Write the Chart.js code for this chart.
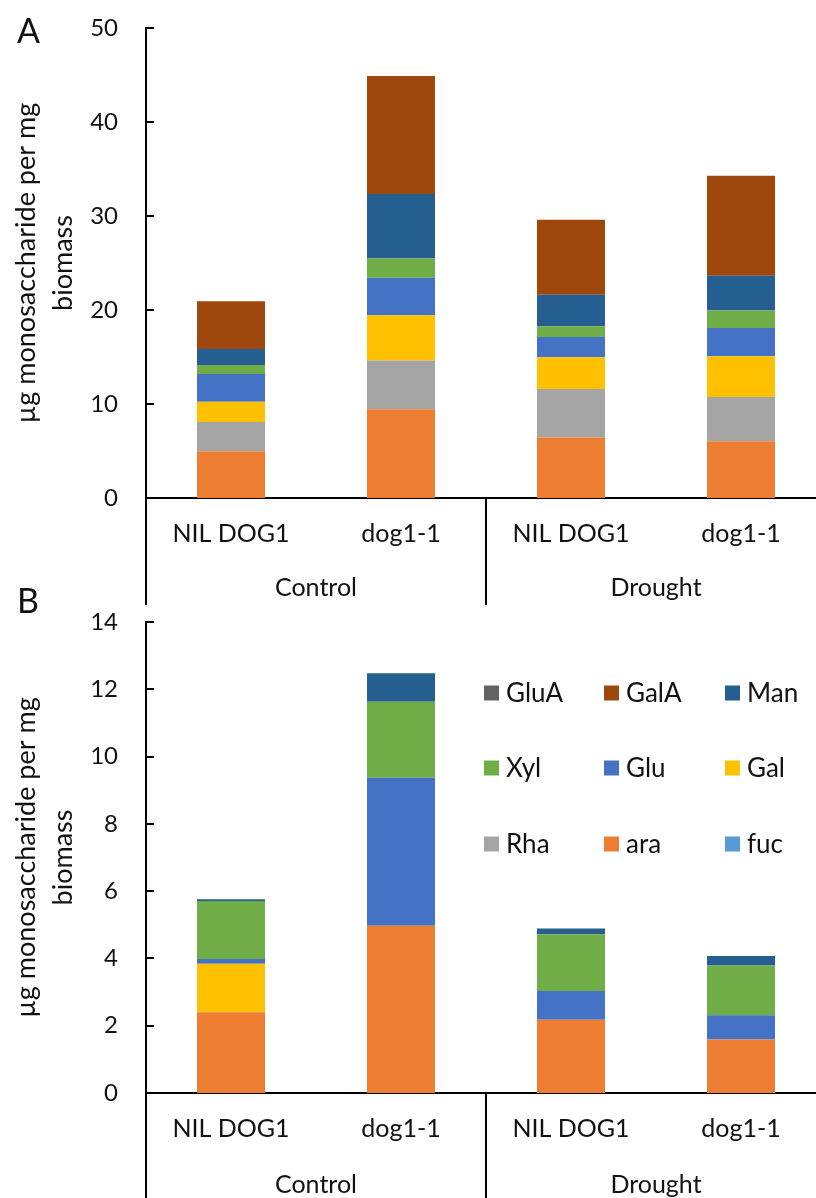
<!DOCTYPE html>
<html lang="en">
<head>
<meta charset="UTF-8" />
<title>Monosaccharide composition - DOG1</title>
<script src="https://cdn.jsdelivr.net/npm/chart.js"></script>
<style>
  body { margin: 0; background: #fff; overflow: hidden; font-family: Lato, sans-serif; }
  .page { position: relative; width: 816px; height: 1198px; overflow: hidden; }
  .panel { position: absolute; left: 0; width: 840px; }
  #wrapA { top: 0; height: 605px; }
  #wrapB { top: 605px; height: 593px; }
  .tag { position: absolute; font-size: 34px; line-height: 1; color: #111; }
</style>
</head>
<body>
<div class="page">
  <div class="panel" id="wrapA"><canvas id="chartA" width="840" height="605"></canvas></div>
  <div class="panel" id="wrapB"><canvas id="chartB" width="840" height="593"></canvas></div>
  <div class="tag" style="left:17px; top:13px;">A</div>
  <div class="tag" style="left:17px; top:583px;">B</div>
</div>

<script>
  // categories
  const genotypes = ['NIL DOG1', 'dog1-1', 'NIL DOG1', 'dog1-1'];
  const treatments = ['Control', 'Drought'];

  // sugars in stacking order (bottom -> top)
  const sugars = ['fuc', 'ara', 'Rha', 'Gal', 'Glu', 'Xyl', 'Man', 'GalA', 'GluA'];
  const sugarColors = ['#5B9BD5', '#ED7D31', '#A5A5A5', '#FFC000', '#4472C4', '#70AD47', '#255E91', '#9E480E', '#636363'];

  // Panel A values (µg per mg biomass)
  const aFuc  = [0, 0, 0, 0];
  const aAra  = [4.98, 9.44, 6.43, 6.04];
  const aRha  = [3.11, 5.19, 5.16, 4.70];
  const aGal  = [2.16, 4.81, 3.39, 4.35];
  const aGlu  = [2.93, 4.00, 2.16, 3.00];
  const aXyl  = [0.96, 2.04, 1.13, 1.85];
  const aMan  = [1.71, 6.86, 3.36, 3.71];
  const aGalA = [5.09, 12.55, 7.96, 10.63];
  const aGluA = [0, 0, 0, 0];

  // Panel B values (µg per mg biomass)
  const bFuc  = [0, 0, 0, 0];
  const bAra  = [2.40, 4.97, 2.18, 1.59];
  const bRha  = [0, 0, 0, 0];
  const bGal  = [1.44, 0, 0, 0];
  const bGlu  = [0.14, 4.40, 0.85, 0.72];
  const bXyl  = [1.73, 2.26, 1.69, 1.48];
  const bMan  = [0.05, 0.85, 0.17, 0.28];
  const bGalA = [0, 0, 0, 0];
  const bGluA = [0, 0, 0, 0];

  const yTitle = ['µg monosaccharide per mg', 'biomass'];
  const FONT = 'Lato';
  const TXT = '#111';

  // axis extras: inward y ticks, group separators, optional grid legend
  const excelAxes = {
    id: 'excelAxes',
    afterDraw(chart, args, opts) {
      const ctx = chart.ctx;
      const area = chart.chartArea;
      const y = chart.scales.y;
      const x = chart.scales.x;
      ctx.save();
      ctx.strokeStyle = '#000';
      ctx.lineWidth = 2;
      ctx.beginPath();
      y.ticks.forEach(t => {
        const py = Math.round(y.getPixelForValue(t.value));
        ctx.moveTo(area.left, py);
        ctx.lineTo(area.left + 8, py);
      });
      const mid = (x.getPixelForValue(1) + x.getPixelForValue(2)) / 2;
      [area.left, mid, area.right].forEach(px => {
        ctx.moveTo(px, area.bottom);
        ctx.lineTo(px, chart.height);
      });
      ctx.stroke();

      if (opts.legend) {
        const sets = chart.data.datasets.slice().reverse();
        ctx.font = '26px ' + FONT;
        ctx.textBaseline = 'middle';
        ctx.textAlign = 'left';
        sets.forEach((ds, i) => {
          const lx = opts.cols[i % 3];
          const ly = opts.rows[Math.floor(i / 3)];
          ctx.fillStyle = ds.backgroundColor;
          ctx.fillRect(lx, ly - 7.5, 15, 15);
          ctx.fillStyle = TXT;
          ctx.fillText(ds.label, lx + 22, ly + 1);
        });
      }
      ctx.restore();
    }
  };

  function makeChart(id, series, yMax, yStep, padTop, x2H, x2Pad, legendOpts) {
    const datasets = sugars.map((s, i) => ({
      label: s,
      data: series[i],
      backgroundColor: sugarColors[i],
      borderWidth: 0,
      barPercentage: 0.4,
      categoryPercentage: 1.0
    }));
    return new Chart(document.getElementById(id), {
      type: 'bar',
      data: { labels: genotypes, datasets: datasets },
      options: {
        responsive: false,
        animation: false,
        layout: { padding: { top: padTop, right: 14, left: 0, bottom: 0 } },
        plugins: {
          legend: { display: false },
          tooltip: { enabled: false },
          excelAxes: legendOpts
        },
        scales: {
          x: {
            stacked: true,
            weight: 0,
            grid: { display: false },
            border: { display: true, color: '#000', width: 2 },
            ticks: { color: TXT, font: { family: FONT, size: 25 }, padding: 13, maxRotation: 0 },
            afterFit: s => { s.height = 58; }
          },
          x2: {
            type: 'category',
            labels: treatments,
            position: 'bottom',
            offset: true,
            weight: 1,
            grid: { display: false },
            border: { display: false },
            ticks: { color: TXT, font: { family: FONT, size: 25 }, padding: x2Pad, maxRotation: 0 },
            afterFit: s => { s.height = x2H; }
          },
          y: {
            stacked: true,
            min: 0,
            max: yMax,
            grid: { display: false, drawTicks: false },
            border: { display: true, color: '#000', width: 2 },
            ticks: { stepSize: yStep, color: TXT, font: { family: FONT, size: 24 }, padding: 28 },
            title: {
              display: true,
              text: yTitle,
              color: TXT,
              font: { family: FONT, size: 27, lineHeight: 1.37 },
              padding: { top: 8, bottom: 0 }
            },
            afterFit: s => {
              s.width = 146;
              s.paddingTop = 0;
              s.paddingBottom = 0;
            }
          }
        }
      },
      plugins: [excelAxes]
    });
  }

  makeChart('chartA',
    [aFuc, aAra, aRha, aGal, aGlu, aXyl, aMan, aGalA, aGluA],
    50, 10, 28, 49, 9, { legend: false });

  makeChart('chartB',
    [bFuc, bAra, bRha, bGal, bGlu, bXyl, bMan, bGalA, bGluA],
    14, 2, 17, 47, 11, { legend: true, cols: [484, 604, 725], rows: [88, 163, 239] });
</script>
</body>
</html>
